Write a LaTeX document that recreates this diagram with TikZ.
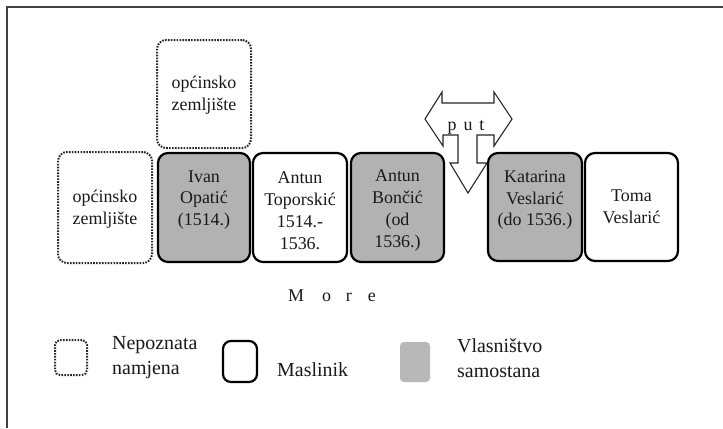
\documentclass[tikz,border=0pt]{standalone}
\usepackage{fontspec}
\setmainfont{Liberation Serif}
\begin{document}
\begin{tikzpicture}[x=1bp,y=-1bp,
  dotbox/.style={draw=black!85, dash pattern=on 1.6bp off 1.3bp, line width=2bp, rounded corners=9bp, fill=white, inner sep=0pt},
  solidbox/.style={draw=black, line width=2.2bp, rounded corners=10bp, fill=white, inner sep=0pt},
  graybox/.style={solidbox, fill=black!30},
  txt/.style={align=center, inner sep=0pt, font=\fontsize{18}{22}\selectfont, text=black!90},
  legtxt/.style={align=left, anchor=west, inner sep=0pt, font=\fontsize{20}{25}\selectfont, text=black!90}]
\useasboundingbox (0,0) rectangle (723,428);
\fill[white] (0,0) rectangle (723,428);
% frame
\draw[black!75, line width=2bp] (7,428) -- (7,7) -- (723,7);

% boxes
\node[dotbox, minimum width=94bp, minimum height=111bp] (od1) at (105,207.5) {};
\node[dotbox, minimum width=94bp, minimum height=108bp] (od2) at (204,94) {};
\node[graybox, minimum width=92bp, minimum height=109bp] (ivan) at (204,207.5) {};
\node[solidbox, minimum width=94bp, minimum height=109bp] (top) at (300,207.5) {};
\node[graybox, minimum width=93bp, minimum height=109bp] (bon) at (397.5,207.5) {};
\node[graybox, minimum width=94bp, minimum height=108bp] (kat) at (535,207) {};
\node[solidbox, minimum width=93bp, minimum height=108bp] (toma) at (631.5,207) {};

% texts
\node[txt] (t-od1) at (105,209) {općinsko\\zemljište};
\node[txt] (t-od2) at (204,95) {općinsko\\zemljište};
\node[txt] (t-ivan) at (204,200) {Ivan\\Opatić\\(1514.)};
\node[txt] (t-top) at (300,210.5) {Antun\\Toporskić\\1514.-\\1536.};
\node[txt] (t-bon) at (397.5,210.5) {Antun\\Bončić\\(od\\1536.)};
\node[txt] (t-kat) at (535,200) {Katarina\\Veslarić\\(do 1536.)};
\node[txt] (t-toma) at (631.5,206.5) {Toma\\Veslarić};

% road arrow
\draw[black!85, line width=1.1bp, fill=white, line join=miter]
  (425,119) -- (442,92) -- (442,103) -- (494,103) -- (494,92) -- (512,119)
  -- (494,146) -- (494,135) -- (477,135) -- (477,163) -- (487,163)
  -- (468,193) -- (450,163) -- (458,163) -- (458,135) -- (443,135)
  -- (443,146) -- cycle;
\node[txt, anchor=base] (put) at (466,130) {p\hspace{7bp}u\hspace{7bp}t};

% sea
\node[txt, anchor=base] (more) at (332,301) {M\hspace{18bp}o\hspace{15bp}r\hspace{16bp}e};

% legend
\node[dotbox, rounded corners=5bp, minimum width=32bp, minimum height=35bp] (l1) at (71,357.5) {};
\node[legtxt] (l1t) at (112,358) {Nepoznata\\namjena};
\node[solidbox, rounded corners=8bp, minimum width=34bp, minimum height=41bp] (l2) at (240,361.5) {};
\node[legtxt] (l2t) at (277,370) {Maslinik};
\node[fill=black!28, rounded corners=4bp, minimum width=30bp, minimum height=40bp, inner sep=0pt] (l3) at (415,362) {};
\node[legtxt] (l3t) at (457,358) {Vlasništvo\\samostana};
\end{tikzpicture}
\end{document}
